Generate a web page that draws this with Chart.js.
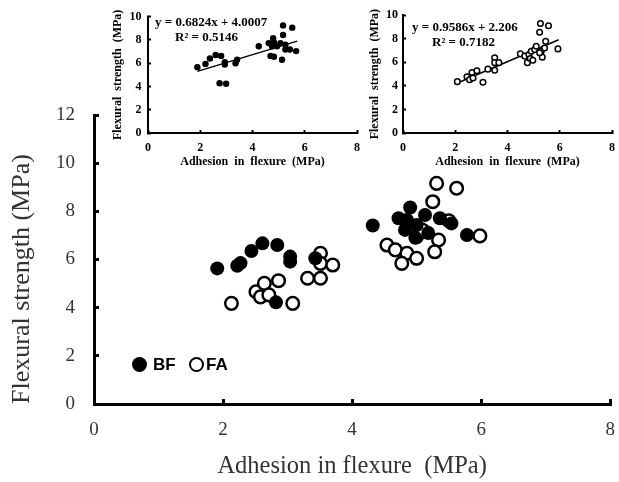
<!DOCTYPE html>
<html>
<head>
<meta charset="utf-8">
<script src="https://cdn.jsdelivr.net/npm/chart.js@4.4.1/dist/chart.umd.min.js"></script>
<style>
  html,body{margin:0;padding:0;background:#fff;}
  #wrap{position:relative;width:619px;height:482px;overflow:hidden;}
  canvas{position:absolute;top:0;}
  .eq{position:absolute;font-family:'Liberation Serif','Times New Roman',serif;font-weight:bold;font-size:13px;line-height:15px;color:#000;white-space:nowrap;}
  .lg{position:absolute;font-family:'Liberation Sans',Arial,sans-serif;font-weight:bold;font-size:17px;line-height:20px;color:#000;white-space:nowrap;}
  .dot{position:absolute;border-radius:50%;box-sizing:border-box;}
</style>
</head>
<body>
<div id="wrap">
  <canvas id="main" width="619" height="482" style="left:0"></canvas>
  <canvas id="insL" width="262" height="172" style="left:100px"></canvas>
  <canvas id="insR" width="259" height="172" style="left:360px"></canvas>
  <div class="eq" style="left:155px;top:14px">y = 0.6824x + 4.0007</div>
  <div class="eq" style="left:175px;top:29px">R² = 0.5146</div>
  <div class="eq" style="left:412px;top:19px">y = 0.9586x + 2.206</div>
  <div class="eq" style="left:432px;top:34px">R² = 0.7182</div>
  <div class="dot" style="left:132px;top:357px;width:15px;height:15px;background:#000"></div>
  <div class="lg" style="left:153px;top:355px">BF</div>
  <div class="dot" style="left:189px;top:357px;width:15px;height:15px;background:#fff;border:2.5px solid #000"></div>
  <div class="lg" style="left:206px;top:355px">FA</div>
</div>
<script>
// ---- Main chart data ----
const bfX = [1.91,2.22,2.27,2.44,2.61,2.84,3.04,3.04,2.82,3.43,4.32,4.72,4.90,4.85,4.82,5.00,5.13,5.36,5.54,5.78,4.98,5.18];
const bfY = [5.63,5.74,5.85,6.35,6.67,6.60,6.12,5.91,4.22,6.05,7.41,7.71,8.16,7.64,7.23,7.43,7.85,7.71,7.50,7.02,6.90,7.10];
const faX = [2.13,2.51,2.64,2.86,2.58,2.71,3.08,3.51,3.51,3.70,3.31,3.51,5.31,5.62,5.25,5.50,5.12,5.34,5.98,4.54,4.67,4.85,4.77,5.00,5.28,5.00,5.08];
const faY = [4.18,4.66,5.01,5.12,4.45,4.53,4.18,6.26,5.84,5.77,5.22,5.22,9.16,8.96,8.40,7.61,7.16,6.81,6.98,6.60,6.40,6.26,5.84,6.05,6.32,6.95,7.23];
const mainXTicks = [0,2,4,6,8];
const mainYTicks = [0,2,4,6,8,10,12];

// ---- Inset data ----
const bfInsX = [1.89,2.20,2.37,2.59,2.80,2.74,2.99,2.94,2.94,3.35,3.41,4.24,4.62,4.79,4.82,4.69,4.82,5.17,5.17,5.52,5.07,5.26,5.26,5.43,5.13,5.67,4.94,4.75];
const bfInsY = [5.66,5.94,6.41,6.71,6.63,4.28,4.23,6.08,5.88,5.99,6.30,7.46,7.73,8.15,7.79,6.63,6.55,8.43,9.25,9.06,7.73,7.60,7.18,7.18,6.30,7.04,7.46,7.46];
const faInsX = [2.08,2.45,2.55,2.64,2.68,2.83,3.06,3.25,3.51,3.51,3.51,3.67,4.49,4.66,4.76,4.82,4.91,4.87,4.97,5.04,5.10,5.26,5.23,5.57,5.29,5.33,5.42,5.46,5.93,5.23];
const faInsY = [4.36,4.78,4.53,5.14,4.67,5.28,4.31,5.42,6.39,5.97,5.33,5.97,6.72,6.53,5.97,6.67,6.94,6.33,6.17,7.08,7.36,9.30,8.55,9.11,6.94,6.44,7.22,7.78,7.14,6.81];
const bfTrendX = [1.89,5.71];
const bfTrendY = [5.30,7.90];
const faTrendX = [2.04,5.96];
const faTrendY = [4.20,7.92];
const insXTicks = [0,2,4,6,8];
const insYTicks = [0,2,4,6,8,10];

const serif = "'Liberation Serif','Times New Roman',serif";
const pts = (xs, ys) => xs.map((x, i) => ({x: x, y: ys[i]}));
const fixTicks = arr => (s => { s.ticks = arr.map(v => ({value: v})); });
const fitX = h => (s => { s.height = h; s.paddingLeft = 0; s.paddingRight = 0; });
const fitY = w => (s => { s.width = w; });

// ---- Main chart ----
new Chart(document.getElementById('main'), {
  type: 'scatter',
  data: {
    datasets: [
      {label: 'BF', data: pts(bfX, bfY), pointRadius: 7, pointBackgroundColor: '#000', pointBorderWidth: 0, borderWidth: 0},
      {label: 'FA', data: pts(faX, faY), pointRadius: 6.3, pointBackgroundColor: '#fff', pointBorderColor: '#000', pointBorderWidth: 2.5}
    ]
  },
  options: {
    responsive: false, animation: false, devicePixelRatio: 1, events: [],
    layout: {padding: {top: 115, right: 7, left: 0, bottom: 0}},
    plugins: {legend: {display: false}, tooltip: {enabled: false}},
    scales: {
      x: {
        type: 'linear', min: 0, max: 8,
        afterBuildTicks: fixTicks(mainXTicks),
        afterFit: fitX(78),
        border: {display: true, color: '#000', width: 3},
        grid: {drawOnChartArea: false, tickLength: -5, tickColor: '#000', tickWidth: 3},
        ticks: {padding: 20, color: '#333', font: {family: serif, size: 19}},
        title: {display: true, text: 'Adhesion in flexure  (MPa)', color: '#333', font: {family: serif, size: 24.5}, padding: {top: 0, bottom: 1}}
      },
      y: {
        type: 'linear', min: 0, max: 12,
        afterBuildTicks: fixTicks(mainYTicks),
        afterFit: fitY(94),
        border: {display: true, color: '#000', width: 3},
        grid: {drawOnChartArea: false, tickLength: -5, tickColor: '#000', tickWidth: 3},
        ticks: {padding: 24, color: '#333', font: {family: serif, size: 19}},
        title: {display: true, text: 'Flexural strength (MPa)', align: 'start', color: '#333', font: {family: serif, size: 26}, padding: {top: 7, bottom: 0}}
      }
    }
  }
});

// ---- Insets ----
function inset(id, ptsData, pointStyleOpts, trend, yWidth, rightPad, yTickPad, yTitlePad) {
  new Chart(document.getElementById(id), {
    type: 'scatter',
    data: {
      datasets: [
        Object.assign({data: ptsData}, pointStyleOpts),
        {data: trend, showLine: true, pointRadius: 0, borderColor: '#000', borderWidth: 1.5}
      ]
    },
    options: {
      responsive: false, animation: false, devicePixelRatio: 1, events: [],
      layout: {padding: {top: 13, right: rightPad, left: 0, bottom: 0}},
      plugins: {legend: {display: false}, tooltip: {enabled: false}},
      scales: {
        x: {
          type: 'linear', min: 0, max: 8,
          afterBuildTicks: fixTicks(insXTicks),
          afterFit: fitX(39),
          border: {display: true, color: '#000', width: 2},
          grid: {drawOnChartArea: false, tickLength: -3, tickColor: '#000', tickWidth: 2},
          ticks: {padding: 10.5, color: '#000', font: {family: serif, size: 12, weight: 'bold'}},
          title: {display: true, text: 'Adhesion  in  flexure  (MPa)', color: '#000', font: {family: serif, size: 12, weight: 'bold'}, padding: {top: 0, bottom: 2.8}}
        },
        y: {
          type: 'linear', min: 0, max: 10,
          afterBuildTicks: fixTicks(insYTicks),
          afterFit: fitY(yWidth),
          border: {display: true, color: '#000', width: 2},
          grid: {drawOnChartArea: false, tickLength: -3, tickColor: '#000', tickWidth: 2},
          ticks: {padding: yTickPad, color: '#000', font: {family: serif, size: 12, weight: 'bold'}},
          title: {display: true, text: 'Flexural  strength  (MPa)', color: '#000', font: {family: serif, size: 12, weight: 'bold'}, padding: {top: yTitlePad, bottom: 0}}
        }
      }
    }
  });
}
inset('insL', pts(bfInsX, bfInsY), {pointRadius: 3.2, pointBackgroundColor: '#000', pointBorderWidth: 0}, pts(bfTrendX, bfTrendY), 48, 5, 9.5, 10.8);
inset('insR', pts(faInsX, faInsY), {pointRadius: 2.8, pointBackgroundColor: '#fff', pointBorderColor: '#000', pointBorderWidth: 1.5}, pts(faTrendX, faTrendY), 43, 7, 8, 7.8);
</script>
</body>
</html>
